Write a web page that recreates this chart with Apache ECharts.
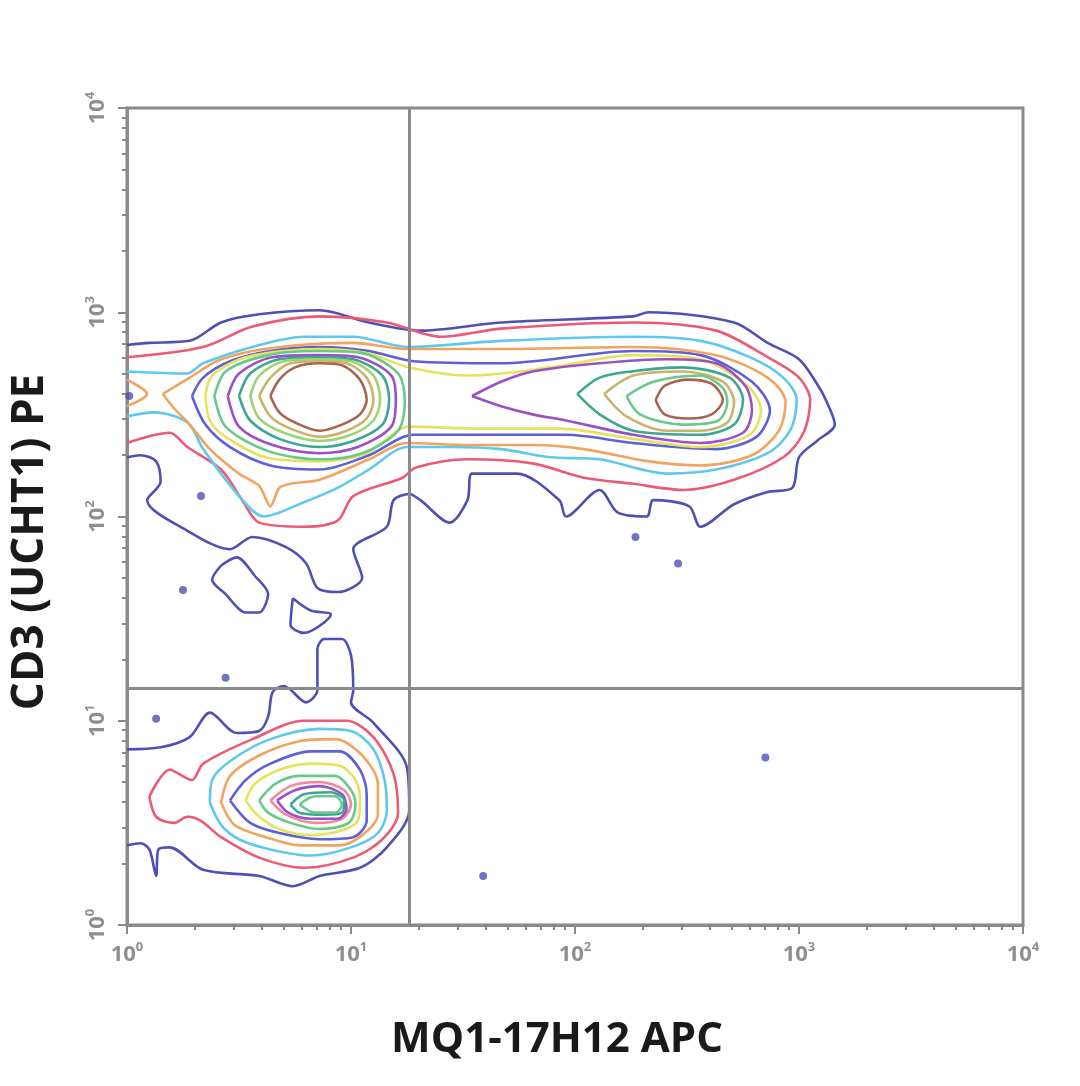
<!DOCTYPE html>
<html><head><meta charset="utf-8">
<script src="https://cdn.jsdelivr.net/npm/echarts@6/dist/echarts.min.js"></script>
<style>html,body{margin:0;padding:0;background:#fff}#c{width:1080px;height:1086px}</style>
</head><body><div id="c"></div>
<script>
// All coordinates are log10 of fluorescence intensity (x: MQ1-17H12 APC, y: CD3 (UCHT1) PE)
const decades = [0, 1, 2, 3, 4];
const minorMultipliers = [2, 3, 4, 5, 6, 7, 8, 9];
const gateX = 1.26;
const gateY = 1.16;

// ---------- upper (CD3+) population ----------
const upperBlueOuter = [[0.00,2.84],[0.10,2.85],[0.28,2.86],[0.42,2.95],[0.59,2.99],[0.86,3.01],[1.08,2.95],[1.31,2.91],[1.67,2.95],[2.26,2.98],[2.33,3.00],[2.71,2.95],[2.86,2.85],[3.00,2.77],[3.08,2.65],[3.12,2.57],[3.16,2.45],[3.08,2.37],[3.00,2.29],[2.97,2.14],[2.86,2.12],[2.71,2.06],[2.56,1.95],[2.51,2.05],[2.35,2.08],[2.32,2.00],[2.19,2.02],[2.11,2.13],[1.96,2.00],[1.93,2.08],[1.74,2.21],[1.54,2.21],[1.52,2.08],[1.44,1.97],[1.31,2.08],[1.26,2.11],[1.19,2.08],[1.16,1.95],[1.01,1.84],[1.05,1.70],[0.94,1.63],[0.85,1.65],[0.80,1.77],[0.71,1.85],[0.56,1.90],[0.46,1.84],[0.27,1.93],[0.09,2.08],[0.15,2.17],[0.13,2.27],[0.06,2.30],[0.00,2.29]];
const blueIslandA = [[0.42,1.76],[0.49,1.80],[0.57,1.71],[0.63,1.62],[0.59,1.53],[0.53,1.53],[0.44,1.62],[0.38,1.69]];
const blueIslandB = [[0.74,1.60],[0.82,1.54],[0.91,1.52],[0.79,1.43],[0.73,1.47]];
const upperRed = [[0.00,2.78],[0.34,2.83],[0.56,2.93],[0.86,2.98],[1.16,2.95],[1.40,2.88],[1.67,2.92],[2.26,2.95],[2.63,2.91],[2.86,2.78],[3.00,2.68],[3.05,2.57],[3.02,2.41],[2.93,2.29],[2.71,2.18],[2.48,2.13],[2.26,2.16],[2.04,2.19],[1.81,2.26],[1.52,2.28],[1.29,2.24],[1.23,2.19],[1.01,2.10],[0.94,1.98],[0.79,1.95],[0.59,1.97],[0.52,2.07],[0.42,2.23],[0.27,2.34],[0.19,2.41],[0.00,2.36]];
const upperCyan = [[0.00,2.71],[0.27,2.70],[0.34,2.75],[0.56,2.83],[0.79,2.88],[1.01,2.88],[1.25,2.83],[1.67,2.86],[2.26,2.88],[2.56,2.86],[2.78,2.78],[2.93,2.68],[2.99,2.57],[2.96,2.42],[2.86,2.31],[2.63,2.23],[2.41,2.21],[2.11,2.28],[1.89,2.29],[1.67,2.33],[1.44,2.34],[1.25,2.34],[1.08,2.23],[0.94,2.14],[0.79,2.07],[0.61,2.00],[0.50,2.10],[0.34,2.33],[0.27,2.46],[0.12,2.51],[0.00,2.49]];
const upperOrange = [[0.16,2.60],[0.28,2.68],[0.40,2.76],[0.56,2.81],[0.77,2.84],[1.01,2.85],[1.25,2.82],[1.67,2.82],[2.26,2.83],[2.63,2.79],[2.86,2.68],[2.94,2.56],[2.91,2.42],[2.79,2.30],[2.56,2.25],[2.33,2.27],[2.04,2.33],[1.81,2.35],[1.52,2.35],[1.25,2.36],[1.08,2.28],[0.86,2.18],[0.73,2.16],[0.68,2.14],[0.64,2.05],[0.59,2.15],[0.50,2.21],[0.37,2.33],[0.28,2.45],[0.21,2.53]];
const upperOrangeEdge = [[0.00,2.67],[0.09,2.60],[0.00,2.54]];
const upperViolet = [[0.29,2.59],[0.34,2.68],[0.46,2.76],[0.64,2.81],[0.86,2.83],[1.08,2.81],[1.28,2.76],[1.67,2.75],[2.26,2.81],[2.56,2.79],[2.79,2.66],[2.87,2.52],[2.81,2.39],[2.63,2.33],[2.26,2.36],[1.96,2.40],[1.67,2.40],[1.28,2.40],[1.08,2.30],[0.86,2.23],[0.64,2.25],[0.46,2.34],[0.35,2.45]];
const upperYellow = [[0.35,2.59],[0.38,2.69],[0.53,2.78],[0.86,2.82],[1.07,2.80],[1.26,2.73],[1.53,2.69],[1.89,2.73],[2.26,2.79],[2.56,2.77],[2.77,2.64],[2.83,2.52],[2.78,2.40],[2.56,2.34],[2.26,2.38],[1.93,2.43],[1.58,2.43],[1.26,2.44],[1.07,2.31],[0.86,2.27],[0.62,2.29],[0.44,2.39],[0.37,2.47]];
// left blob (CD3+ MQ1-17H12-)
const leftGreen = [[0.39,2.59],[0.44,2.71],[0.63,2.79],[0.86,2.81],[1.05,2.80],[1.21,2.70],[1.24,2.57],[1.21,2.42],[1.05,2.31],[0.86,2.28],[0.63,2.32],[0.44,2.44]];
const leftPurple = [[0.45,2.59],[0.50,2.70],[0.65,2.78],[0.86,2.79],[1.03,2.78],[1.18,2.69],[1.20,2.57],[1.18,2.44],[1.03,2.34],[0.86,2.31],[0.65,2.35],[0.50,2.44]];
const leftTeal = [[0.50,2.59],[0.55,2.70],[0.68,2.77],[0.86,2.78],[1.01,2.77],[1.14,2.69],[1.17,2.57],[1.14,2.45],[1.01,2.37],[0.86,2.34],[0.68,2.38],[0.55,2.47]];
const leftLightGreen = [[0.55,2.59],[0.59,2.69],[0.70,2.76],[0.86,2.77],[1.00,2.76],[1.10,2.69],[1.13,2.57],[1.10,2.47],[1.00,2.40],[0.86,2.37],[0.70,2.41],[0.59,2.48]];
const leftOlive = [[0.59,2.59],[0.64,2.68],[0.73,2.75],[0.86,2.76],[0.98,2.75],[1.07,2.68],[1.10,2.57],[1.07,2.48],[0.98,2.42],[0.86,2.39],[0.73,2.43],[0.64,2.49]];
const leftBrown = [[0.64,2.59],[0.68,2.67],[0.75,2.73],[0.86,2.75],[0.96,2.74],[1.04,2.67],[1.07,2.57],[1.04,2.50],[0.96,2.45],[0.86,2.42],[0.75,2.46],[0.68,2.51]];
// right blob (CD3+ MQ1-17H12+)
const rightPurple = [[1.54,2.59],[1.67,2.66],[1.81,2.71],[2.11,2.75],[2.41,2.77],[2.63,2.75],[2.76,2.64],[2.79,2.52],[2.75,2.41],[2.56,2.36],[2.26,2.40],[1.96,2.47],[1.81,2.50],[1.67,2.54]];
const rightTeal = [[2.01,2.60],[2.11,2.68],[2.25,2.71],[2.48,2.73],[2.69,2.68],[2.75,2.57],[2.71,2.45],[2.56,2.40],[2.26,2.42],[2.11,2.50]];
const rightOlive = [[2.13,2.60],[2.26,2.69],[2.48,2.71],[2.66,2.66],[2.71,2.56],[2.68,2.46],[2.56,2.42],[2.41,2.42],[2.23,2.49]];
const rightGreen = [[2.23,2.59],[2.35,2.66],[2.56,2.69],[2.66,2.63],[2.68,2.56],[2.64,2.47],[2.48,2.45],[2.29,2.50]];
const rightBrown = [[2.36,2.57],[2.40,2.64],[2.50,2.67],[2.61,2.65],[2.66,2.57],[2.61,2.50],[2.51,2.48],[2.40,2.50]];

// ---------- lower (CD3-) population ----------
const lowerBlueOuter = [[0.00,0.86],[0.15,0.87],[0.28,0.92],[0.37,1.04],[0.49,0.94],[0.59,0.95],[0.63,1.02],[0.65,1.14],[0.70,1.17],[0.80,1.09],[0.85,1.15],[0.85,1.35],[0.88,1.40],[0.96,1.40],[1.00,1.32],[1.01,1.15],[1.00,1.09],[1.10,0.99],[1.25,0.77],[1.26,0.56],[1.16,0.38],[1.04,0.28],[0.86,0.24],[0.74,0.19],[0.59,0.24],[0.34,0.27],[0.19,0.38],[0.14,0.37],[0.13,0.24],[0.10,0.37],[0.06,0.40],[0.00,0.39]];
const lowerRed = [[0.10,0.63],[0.19,0.76],[0.29,0.71],[0.34,0.79],[0.56,0.91],[0.79,1.00],[0.98,1.00],[1.10,0.92],[1.19,0.74],[1.21,0.55],[1.14,0.42],[1.01,0.33],[0.79,0.28],[0.59,0.33],[0.42,0.43],[0.33,0.51],[0.27,0.53],[0.21,0.50],[0.13,0.53]];
const lowerCyan = [[0.37,0.60],[0.38,0.71],[0.47,0.81],[0.64,0.91],[0.86,0.96],[1.00,0.95],[1.10,0.86],[1.15,0.71],[1.16,0.56],[1.12,0.45],[1.00,0.38],[0.82,0.34],[0.64,0.37],[0.50,0.42],[0.42,0.49]];
const lowerOrange = [[0.42,0.60],[0.46,0.73],[0.59,0.83],[0.77,0.90],[0.93,0.91],[1.05,0.83],[1.12,0.69],[1.12,0.54],[1.05,0.44],[0.95,0.39],[0.77,0.39],[0.62,0.43],[0.48,0.49]];
const lowerViolet = [[0.46,0.61],[0.53,0.71],[0.64,0.79],[0.82,0.85],[0.95,0.85],[1.04,0.76],[1.07,0.64],[1.07,0.51],[1.01,0.43],[0.86,0.42],[0.68,0.45],[0.55,0.50]];
const lowerYellow = [[0.53,0.61],[0.57,0.69],[0.68,0.76],[0.82,0.79],[0.95,0.78],[1.02,0.71],[1.04,0.61],[1.03,0.51],[0.95,0.46],[0.82,0.44],[0.68,0.47],[0.58,0.54]];
const lowerGreen = [[0.59,0.61],[0.66,0.69],[0.77,0.73],[0.93,0.73],[1.00,0.66],[1.02,0.59],[0.99,0.50],[0.86,0.47],[0.73,0.50],[0.63,0.55]];
const lowerPink = [[0.64,0.61],[0.73,0.68],[0.86,0.70],[0.97,0.66],[1.00,0.59],[0.96,0.52],[0.84,0.50],[0.71,0.54]];
const lowerPurple = [[0.67,0.61],[0.75,0.66],[0.86,0.68],[0.96,0.64],[0.98,0.57],[0.94,0.52],[0.82,0.52],[0.72,0.55]];
const lowerTeal = [[0.73,0.59],[0.79,0.64],[0.91,0.65],[0.97,0.61],[0.96,0.55],[0.88,0.54],[0.77,0.55]];
const lowerInnerGreen = [[0.77,0.59],[0.84,0.63],[0.93,0.63],[0.96,0.59],[0.93,0.55],[0.84,0.55]];

// isolated events
const isolatedEvents = [[0.01,2.59],[0.33,2.10],[0.25,1.64],[0.44,1.21],[0.13,1.01],[1.59,0.24],[2.27,1.90],[2.46,1.77],[2.85,0.82]];

// ---------- styles ----------
const palette = {
  blue:'#5050b4', red:'#ec5a76', cyan:'#5ec8ee', orange:'#f2a45e', violet:'#5e60d4',
  yellow:'#e6e25c', green:'#68c98c', purple:'#9c50c6', teal:'#3ca890', lightgreen:'#9cd472',
  olive:'#c8b46c', brown:'#a8644e', pink:'#f2889a'
};
const contourList = [
  [upperBlueOuter,'blue',false],[blueIslandA,'blue',true],[blueIslandB,'blue',true],
  [upperRed,'red',false],[upperCyan,'cyan',false],[upperOrange,'orange',true],[upperOrangeEdge,'orange',false],
  [upperViolet,'violet',true],[upperYellow,'yellow',true],
  [leftGreen,'green',true],[leftPurple,'purple',true],[leftTeal,'teal',true],[leftLightGreen,'lightgreen',true],[leftOlive,'olive',true],[leftBrown,'brown',true],
  [rightPurple,'purple',true],[rightTeal,'teal',true],[rightOlive,'olive',true],[rightGreen,'green',true],[rightBrown,'brown',true],
  [lowerBlueOuter,'blue',false],[lowerRed,'red',true],[lowerCyan,'cyan',true],[lowerOrange,'orange',true],[lowerViolet,'violet',true],
  [lowerYellow,'yellow',true],[lowerGreen,'green',true],[lowerPink,'pink',true],[lowerPurple,'purple',true],[lowerTeal,'teal',true],[lowerInnerGreen,'green',true]
];

const minorTicks = [];
decades.slice(0, -1).forEach(d => minorMultipliers.forEach(m => minorTicks.push(d + Math.log10(m))));

const axisGray = '#8a8a8a';
const labelRich = {
  b: { fontSize: 22, color: '#8e8e8e', fontFamily: 'Open Sans', fontWeight: 'bold' },
  s: { fontSize: 13, color: '#8e8e8e', fontFamily: 'Open Sans', fontWeight: 'bold', padding: [0, 0, 14, 0] }
};
function decadeLabel(v) { return '{b|10}{s|' + Math.round(v) + '}'; }

const series = contourList.map(([pts, col, isClosed]) => ({
  type: 'line', xAxisIndex: 0, yAxisIndex: 0,
  data: isClosed ? pts.concat([pts[0]]) : pts,
  showSymbol: false, smooth: 0.3, silent: true, z: 2,
  lineStyle: { color: palette[col], width: 2.6 }
}));
series.push({
  type: 'scatter', data: isolatedEvents, symbolSize: 8, silent: true, z: 2,
  itemStyle: { color: palette.blue }
});
series.push({
  type: 'line', data: [], silent: true, z: 5,
  markLine: {
    silent: true, symbol: ['none', 'none'], animation: false,
    label: { show: false },
    lineStyle: { color: axisGray, width: 3, type: 'solid' },
    data: [{ xAxis: gateX }, { yAxis: gateY }]
  }
});

const chart = echarts.init(document.getElementById('c'), null, { renderer: 'canvas' });
chart.setOption({
  animation: false,
  backgroundColor: '#ffffff',
  grid: { left: 127, top: 108, right: 57, bottom: 161, show: true, borderColor: axisGray, borderWidth: 3, backgroundColor: 'transparent' },
  xAxis: [
    { type: 'value', min: 0, max: 4, interval: 1, position: 'bottom',
      axisLine: { show: true, lineStyle: { color: axisGray, width: 3 } },
      axisTick: { show: true, length: 9, lineStyle: { color: axisGray, width: 2 } },
      axisLabel: { show: true, margin: 16, formatter: decadeLabel, rich: labelRich },
      splitLine: { show: false } },
    { type: 'value', min: 0, max: 4, position: 'bottom',
      axisLine: { show: false },
      axisTick: { show: true, length: 5, customValues: minorTicks, lineStyle: { color: axisGray, width: 2 } },
      axisLabel: { show: false }, splitLine: { show: false } }
  ],
  yAxis: [
    { type: 'value', min: 0, max: 4, interval: 1, position: 'left',
      axisLine: { show: true, lineStyle: { color: axisGray, width: 3 } },
      axisTick: { show: true, length: 9, lineStyle: { color: axisGray, width: 2 } },
      axisLabel: { show: true, margin: 16, rotate: 90, formatter: decadeLabel, rich: labelRich },
      splitLine: { show: false } },
    { type: 'value', min: 0, max: 4, position: 'left',
      axisLine: { show: false },
      axisTick: { show: true, length: 5, customValues: minorTicks, lineStyle: { color: axisGray, width: 2 } },
      axisLabel: { show: false }, splitLine: { show: false } }
  ],
  graphic: [
    { type: 'text', x: 557, y: 1040, style: { text: 'MQ1-17H12 APC', fill: '#1a1a1a', font: 'bold 42px "Open Sans"', align: 'center', verticalAlign: 'middle' } },
    { type: 'text', x: 30, y: 542, rotation: Math.PI / 2, style: { text: 'CD3 (UCHT1) PE', fill: '#1a1a1a', font: 'bold 44px "Open Sans"', align: 'center', verticalAlign: 'middle' } }
  ],
  series: series
});
</script>
</body></html>
